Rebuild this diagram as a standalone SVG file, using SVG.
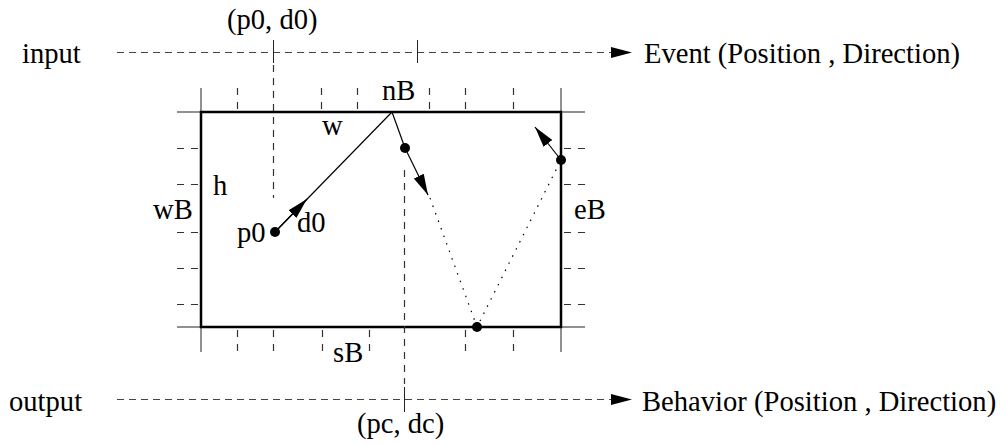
<svg xmlns="http://www.w3.org/2000/svg" width="1006" height="445" viewBox="0 0 1006 445">
<style>
text{font-family:"Liberation Serif","Times New Roman",serif;font-size:28.6px;fill:#000}
.thin{stroke:#222;stroke-width:1;fill:none}
.dash{stroke:#333;stroke-width:1.2;fill:none;stroke-dasharray:7,6}
.hdash{stroke:#444;stroke-width:1.2;fill:none;stroke-dasharray:7,5}
.tick{stroke:#333;stroke-width:1.2;fill:none;stroke-dasharray:7,7}
.thick{stroke:#000;stroke-width:2.5;fill:none}
.dot{stroke:#000;stroke-width:1.2;fill:none;stroke-dasharray:1.5,6.5}
.traj{stroke:#000;stroke-width:1.2;fill:none}
</style>
<defs>
<marker id="ah" markerUnits="userSpaceOnUse" markerWidth="22" markerHeight="11" refX="21" refY="5.5" orient="auto">
<path d="M0,0 L21,5.5 L0,11 z" fill="#000"/>
</marker>
</defs>
<g id="frame">
<line class="thin" x1="177" y1="112" x2="585" y2="112"/>
<line class="thin" x1="177" y1="327" x2="585" y2="327"/>
<line class="thin" x1="201" y1="88" x2="201" y2="352"/>
<line class="thin" x1="561" y1="88" x2="561" y2="352"/>
<rect class="thick" x="201" y="112" width="360" height="215"/>
</g>
<g id="ticks">
<line class="tick" x1="237.5" y1="88" x2="237.5" y2="112"/>
<line class="tick" x1="321.5" y1="88" x2="321.5" y2="112"/>
<line class="tick" x1="357.5" y1="88" x2="357.5" y2="112"/>
<line class="tick" x1="429.5" y1="88" x2="429.5" y2="112"/>
<line class="tick" x1="465.5" y1="88" x2="465.5" y2="112"/>
<line class="tick" x1="513.5" y1="88" x2="513.5" y2="112"/>
<line class="tick" x1="237.5" y1="351" x2="237.5" y2="327"/>
<line class="tick" x1="273.5" y1="351" x2="273.5" y2="327"/>
<line class="tick" x1="322.5" y1="351" x2="322.5" y2="327"/>
<line class="tick" x1="369.5" y1="351" x2="369.5" y2="327"/>
<line class="tick" x1="465.5" y1="351" x2="465.5" y2="327"/>
<line class="tick" x1="513.5" y1="351" x2="513.5" y2="327"/>
<line class="tick" x1="177" y1="148.5" x2="201" y2="148.5"/>
<line class="tick" x1="177" y1="184.5" x2="201" y2="184.5"/>
<line class="tick" x1="177" y1="232.5" x2="201" y2="232.5"/>
<line class="tick" x1="177" y1="268.5" x2="201" y2="268.5"/>
<line class="tick" x1="177" y1="304.5" x2="201" y2="304.5"/>
<line class="tick" x1="585" y1="148.5" x2="561" y2="148.5"/>
<line class="tick" x1="585" y1="184.5" x2="561" y2="184.5"/>
<line class="tick" x1="585" y1="232.5" x2="561" y2="232.5"/>
<line class="tick" x1="585" y1="268.5" x2="561" y2="268.5"/>
<line class="tick" x1="585" y1="304.5" x2="561" y2="304.5"/>
</g>
<g id="connectors">
<line class="hdash" x1="117" y1="52.5" x2="632" y2="52.5" marker-end="url(#ah)"/>
<line class="thin" x1="273.5" y1="40" x2="273.5" y2="63"/>
<line class="thin" x1="417.5" y1="40" x2="417.5" y2="63"/>
<line class="dash" x1="273.5" y1="65" x2="273.5" y2="198"/>
<line class="hdash" x1="117" y1="399.5" x2="632" y2="399.5" marker-end="url(#ah)"/>
<line class="thin" x1="404.5" y1="387" x2="404.5" y2="412"/>
<line class="dash" x1="404.5" y1="170" x2="404.5" y2="384"/>
</g>
<g id="trajectory">
<line class="traj" x1="275" y1="232" x2="392" y2="112"/>
<line class="traj" x1="275" y1="232" x2="307" y2="199" marker-end="url(#ah)"/>
<line class="traj" x1="392" y1="112" x2="405" y2="148"/>
<line class="traj" x1="405" y1="148" x2="428" y2="195" marker-end="url(#ah)"/>
<polyline class="dot" points="430,198 477,327 561,160"/>
<line class="traj" x1="561" y1="160" x2="535" y2="127" marker-end="url(#ah)"/>
<circle cx="275" cy="232" r="5" fill="#000"/>
<circle cx="405" cy="148" r="5" fill="#000"/>
<circle cx="477" cy="327" r="5" fill="#000"/>
<circle cx="561" cy="160" r="5" fill="#000"/>
</g>
<g id="labels">
<text x="22" y="63">input</text>
<text x="227" y="29">(p0, d0)</text>
<text x="644" y="63">Event (Position , Direction)</text>
<text x="382" y="100">nB</text>
<text x="322" y="135">w</text>
<text x="213" y="195">h</text>
<text x="153" y="219">wB</text>
<text x="237" y="242">p0</text>
<text x="297" y="232">d0</text>
<text x="574" y="219">eB</text>
<text x="333" y="362">sB</text>
<text x="9" y="411">output</text>
<text x="357" y="433">(pc, dc)</text>
<text x="642" y="411">Behavior (Position , Direction)</text>
</g>
</svg>
